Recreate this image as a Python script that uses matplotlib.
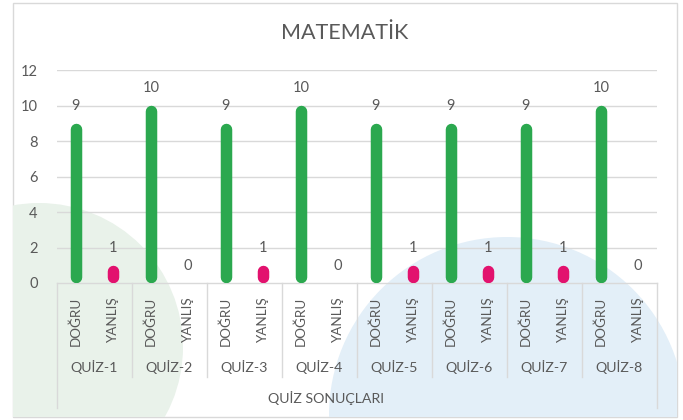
#!/usr/bin/env python

import matplotlib
matplotlib.use("Agg")
import matplotlib.pyplot as plt
import matplotlib.transforms as mtransforms
from matplotlib.patches import Circle, Rectangle

# data
quizzes = ["QUİZ-1", "QUİZ-2", "QUİZ-3", "QUİZ-4", "QUİZ-5", "QUİZ-6", "QUİZ-7", "QUİZ-8"]
answer_types = ["DOĞRU", "YANLIŞ"]
dogru = [9, 10, 9, 10, 9, 9, 9, 10]
yanlis = [1, 0, 1, 0, 1, 1, 1, 0]
y_ticks = [0, 2, 4, 6, 8, 10, 12]
title = "MATEMATİK"
axis_title = "QUİZ SONUÇLARI"

W, H = 683, 420
text_col = "#595959"
line_col = "#d9d9d9"
green = "#2ba84f"
pink = "#e2126e"
plt.rcParams["font.family"] = ["Lato", "DejaVu Sans"]

fig = plt.figure(figsize=(W / 100, H / 100), dpi=100)
fig.patch.set_facecolor("white")

# background layer in pixel coordinates (origin top-left)
bg = fig.add_axes([0, 0, 1, 1])
bg.set_xlim(0, W)
bg.set_ylim(H, 0)
bg.axis("off")
frame = Rectangle((13, 3), 664, 414, facecolor="white", edgecolor=line_col, lw=1.0)
bg.add_patch(frame)
c1 = Circle((39, 347), 144, facecolor="#e9f2ea", edgecolor="none")
c2 = Circle((507, 415), 178, facecolor="#e3eff8", edgecolor="none")
for c in (c1, c2):
    bg.add_patch(c)
    c.set_clip_path(frame)

# plot area
px0, px1, py_top, py_bot = 57, 657, 70, 283
ax = fig.add_axes([px0 / W, (H - py_bot) / H, (px1 - px0) / W, (py_bot - py_top) / H])
ax.patch.set_alpha(0)
n = len(quizzes) * 2
ax.set_xlim(-0.5, n - 0.5)
ax.set_ylim(0, 12)
ax.set_yticks(y_ticks)
ax.set_xticks([])
ax.tick_params(axis="y", length=0, pad=14, labelsize=10.5, labelcolor=text_col)
for s in ax.spines.values():
    s.set_visible(False)
for t in y_ticks[1:]:
    ax.axhline(t, color=line_col, lw=1.0, zorder=0)

# rounded bars
bar_px = 11.5
r_data = (bar_px / 2) * 12 / (py_bot - py_top)
for i in range(len(quizzes)):
    for j, (val, col) in enumerate([(dogru[i], green), (yanlis[i], pink)]):
        x = 2 * i + j
        if val > 0:
            ax.plot([x, x], [r_data, val - r_data], color=col, lw=bar_px * 0.72,
                    solid_capstyle="round", zorder=3)
        ax.annotate(str(val), (x, val), xytext=(0, 12.5), textcoords="offset points",
                    ha="center", va="center", fontsize=10.5, color=text_col)

# multi-level category axis (y in axes fraction, below the plot)
px_h = py_bot - py_top
trans = mtransforms.blended_transform_factory(ax.transData, ax.transAxes)
ax.axhline(0, color=line_col, lw=1.0, zorder=1, clip_on=False)
for k in range(len(quizzes) + 1):
    x = 2 * k - 0.5
    low = 408 if k in (0, len(quizzes)) else 377
    ax.plot([x, x], [0, -(low - py_bot) / px_h], color=line_col, lw=1.0,
            transform=trans, clip_on=False)
for i, q in enumerate(quizzes):
    for j, name in enumerate(answer_types):
        ax.text(2 * i + j, -(297 - py_bot) / px_h, name, rotation=90, ha="center",
                va="top", fontsize=9.7, color=text_col, transform=trans)
    ax.text(2 * i + 0.5, -(367 - py_bot) / px_h, q, ha="center", va="center",
            fontsize=10.2, color=text_col, transform=trans)

fig.text(326 / W, 1 - 398 / H, axis_title, ha="center", va="center", fontsize=10.2, color=text_col)
fig.text(345 / W, 1 - 33 / H, title, ha="center", va="center", fontsize=15.5, color=text_col)

fig.savefig("out.png", dpi=100)
